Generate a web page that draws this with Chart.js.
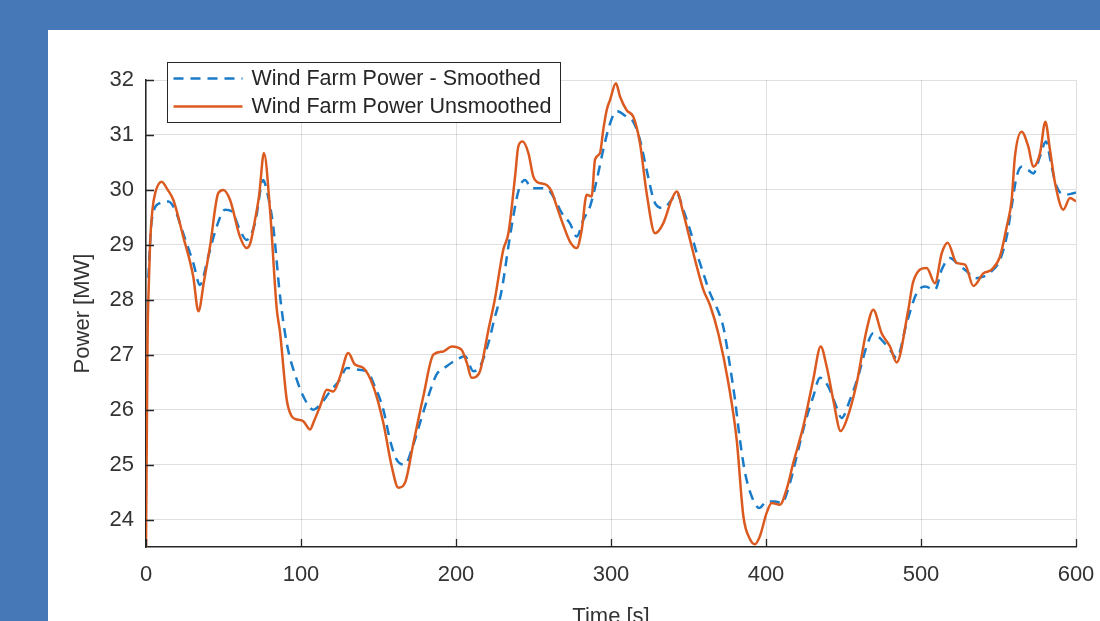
<!DOCTYPE html>
<html>
<head>
<meta charset="utf-8">
<script src="https://cdn.jsdelivr.net/npm/chart.js@4.4.1/dist/chart.umd.min.js"></script>
<style>
  body { margin: 0; background: #4677b7; overflow: hidden; }
  #panel { position: absolute; left: 48px; top: 30px; width: 1052px; height: 611px; background: #fff; }
  canvas { display: block; }
</style>
</head>
<body>
<div id="panel"><canvas id="chart" width="1052" height="611"></canvas></div>
<script>
// tick positions
const xTicks = [0, 100, 200, 300, 400, 500, 600];
const yTicks = [24, 25, 26, 27, 28, 29, 30, 31, 32];

// unsmoothed wind farm power [MW] vs time [s]
const rawTime = [0, 1, 1.5, 2.6, 4, 6, 10.1, 14, 17.6, 24, 30.5, 33.8, 37.5, 41.3, 46.6, 49.9, 54.2, 60.6, 64.9, 67.5,
  70.3, 73, 76.1, 80, 84.3, 86.5, 90.8, 94, 97.5, 101.5, 105.8, 108.5, 112.3, 116.6, 120.9, 125.2, 130.5, 134.8, 140.2, 146.7,
  153.1, 158.5, 162.8, 167.1, 172.5, 178.9, 185.4, 191.8, 197.2, 203.6, 207, 210.1, 213, 215.5, 220.9, 225, 230.5, 233.8, 238.1, 240.2,
  243, 246.7, 249.9, 252, 258.5, 261.7, 265, 269.2, 273.5, 277.9, 281.1, 284.3, 287.5, 289.7, 292.9, 295, 297.2, 299.4, 303.2, 305.8,
  310.1, 314.4, 318.7, 323, 328.4, 333.7, 339.1, 342.4, 346.6, 351, 355.3, 359.6, 363.9, 369.2, 375.7, 381.1, 385.4, 389.7, 392.9, 396.1,
  400.4, 403.7, 409, 413.3, 417.6, 424.1, 430.5, 435.3, 439.1, 443.4, 448.2, 452.1, 458.5, 464.9, 469.2, 474.6, 480, 484.3, 491.8, 495,
  503.7, 509, 513.4, 517.2, 523, 528.4, 533.8, 540.2, 545.6, 551, 555.3, 558.5, 560.6, 564.9, 569.2, 572.4, 576.8, 580.2, 583.2, 586.5,
  591.8, 596.1, 600];
const rawPower = [23.5, 27.3, 28.0, 29.0, 29.6, 29.95, 30.15, 30.0, 29.82, 29.15, 28.42, 27.79, 28.35, 28.97, 29.94, 30.0, 29.82, 29.15, 28.94, 29.05,
  29.45, 29.9, 30.67, 29.64, 27.85, 27.4, 26.18, 25.88, 25.82, 25.79, 25.64, 25.8, 26.06, 26.36, 26.33, 26.6, 27.03, 26.82, 26.76, 26.42,
  25.76, 24.97, 24.58, 24.67, 25.39, 26.24, 27.0, 27.06, 27.15, 27.09, 26.85, 26.58, 26.6, 26.7, 27.45, 28.0, 28.91, 29.21, 30.24, 30.79,
  30.88, 30.67, 30.24, 30.15, 30.09, 29.97, 29.7, 29.36, 29.06, 28.94, 29.27, 29.91, 29.88, 30.55, 30.67, 31.09, 31.45, 31.64, 31.94, 31.7,
  31.45, 31.33, 30.85, 29.94, 29.21, 29.39, 29.82, 29.97, 29.58, 29.09, 28.61, 28.18, 27.9, 27.39, 26.49, 25.45, 24.06, 23.64, 23.55, 23.7,
  24.12, 24.3, 24.27, 24.55, 25.03, 25.7, 26.55, 27.15, 26.79, 26.18, 25.61, 25.82, 26.48, 27.45, 27.82, 27.39, 27.15, 26.86, 27.82, 28.33,
  28.58, 28.3, 28.85, 29.04, 28.67, 28.64, 28.25, 28.48, 28.55, 28.79, 29.33, 29.82, 30.61, 31.06, 30.79, 30.42, 30.67, 31.24, 30.73, 30.12,
  29.64, 29.85, 29.79];

// smoothed wind farm power [MW] vs time [s]
const smoothTime = [1.5, 3.7, 9, 14.4, 18.7, 24, 30.5, 34.8, 40.2, 45.6, 51, 55.3, 60.6, 64.9, 70.3, 75.7, 77.8, 82.1, 86.5, 90.8,
  97.2, 102.6, 108, 113.3, 118.7, 125.2, 129.5, 135.9, 142.4, 147.7, 153.1, 157.4, 161.7, 167.1, 171.4, 176.8, 182.1, 187.5, 194, 200.4,
  205.8, 211.2, 215.5, 220.9, 224.5, 229.5, 234.8, 240.2, 244.5, 248.8, 254.2, 259.6, 263.9, 268.2, 273.5, 277.9, 282.1, 286.5, 290.8, 295,
  299.4, 303.7, 310.1, 314.4, 318.7, 323, 328.4, 333.7, 339.1, 342.4, 346.6, 351, 355.3, 359.6, 363.9, 369.2, 372.5, 376.8, 380, 383.2,
  386.5, 390.8, 395.7, 400.4, 405.8, 410.1, 415.5, 419.8, 425.2, 430.5, 434.8, 440.2, 444.5, 448.8, 454.2, 459.5, 464.9, 469.2, 474.6, 480,
  484.3, 490.8, 497.2, 502.6, 509, 513.4, 518.7, 524.1, 529.5, 534.8, 540.2, 545.6, 551, 555.3, 558.5, 561.7, 564.9, 569.2, 572.4, 576.8,
  580.6, 584.3, 587.5, 592.9, 598.3, 600];
const smoothPower = [28.4, 29.45, 29.76, 29.79, 29.64, 29.21, 28.67, 28.27, 28.79, 29.33, 29.64, 29.61, 29.27, 29.09, 29.39, 30.18, 30.0, 29.33, 28.06, 27.21,
  26.55, 26.18, 26.0, 26.12, 26.33, 26.55, 26.76, 26.73, 26.7, 26.42, 26.0, 25.45, 25.09, 25.0, 25.27, 25.76, 26.24, 26.64, 26.79, 26.91,
  26.97, 26.7, 26.79, 27.21, 27.62, 28.18, 29.15, 29.97, 30.18, 30.03, 30.03, 30.0, 29.82, 29.58, 29.39, 29.15, 29.45, 29.7, 30.18, 30.73,
  31.21, 31.43, 31.33, 31.24, 30.91, 30.36, 29.76, 29.67, 29.82, 29.94, 29.64, 29.27, 28.85, 28.48, 28.12, 27.79, 27.5, 26.79, 26.18, 25.45,
  24.85, 24.42, 24.21, 24.33, 24.33, 24.3, 24.67, 25.15, 25.76, 26.24, 26.58, 26.42, 26.12, 25.85, 26.18, 26.61, 27.15, 27.39, 27.27, 27.09,
  26.94, 27.58, 28.12, 28.24, 28.18, 28.55, 28.76, 28.64, 28.52, 28.39, 28.42, 28.52, 28.73, 29.15, 29.7, 30.24, 30.42, 30.36, 30.3, 30.61,
  30.88, 30.42, 30.06, 29.91, 29.94, 29.95];

const BLUE = '#1a7cc9';
const ORANGE = '#db5a20';
const AXIS = '#262626';
const FONT = '"Liberation Sans", Arial, Helvetica, sans-serif';

const toPoints = (ts, vs) => ts.map((t, i) => ({ x: t, y: vs[i] }));

// inward tick marks + legend box inside the axes, matlab style
const matlabDecor = {
  id: 'matlabDecor',
  afterDatasetsDraw(chart) {
    const { ctx, chartArea: a, scales: { x, y } } = chart;
    ctx.save();
    ctx.strokeStyle = AXIS;
    ctx.lineWidth = 1.3;
    ctx.beginPath();
    x.ticks.forEach(t => {
      const px = Math.round(x.getPixelForValue(t.value)) + 0.5;
      ctx.moveTo(px, a.bottom);
      ctx.lineTo(px, a.bottom - 8);
    });
    y.ticks.forEach(t => {
      const py = Math.round(y.getPixelForValue(t.value)) + 0.5;
      ctx.moveTo(a.left, py);
      ctx.lineTo(a.left + 8, py);
    });
    ctx.stroke();
    ctx.restore();
  },
  afterDraw(chart) {
    const { ctx } = chart;
    const entries = [chart.data.datasets[1], chart.data.datasets[0]];
    const box = { left: 119.5, top: 32.5, width: 393, height: 60 };
    ctx.save();
    ctx.fillStyle = '#fff';
    ctx.fillRect(box.left, box.top, box.width, box.height);
    ctx.strokeStyle = AXIS;
    ctx.lineWidth = 1;
    ctx.strokeRect(box.left, box.top, box.width, box.height);
    ctx.font = '21.5px ' + FONT;
    ctx.textBaseline = 'middle';
    entries.forEach((ds, i) => {
      const cy = box.top + 16 + i * 28;
      ctx.strokeStyle = ds.borderColor;
      ctx.lineWidth = ds.borderWidth;
      ctx.setLineDash(ds.borderDash || []);
      ctx.beginPath();
      ctx.moveTo(box.left + 6, cy);
      ctx.lineTo(box.left + 75, cy);
      ctx.stroke();
      ctx.setLineDash([]);
      ctx.fillStyle = AXIS;
      ctx.fillText(ds.label, box.left + 84, cy + 1);
    });
    ctx.restore();
  }
};

new Chart(document.getElementById('chart'), {
  type: 'line',
  data: {
    datasets: [
      {
        label: 'Wind Farm Power Unsmoothed',
        data: toPoints(rawTime, rawPower),
        borderColor: ORANGE,
        borderWidth: 2.5,
        pointRadius: 0,
        cubicInterpolationMode: 'monotone',
        order: 0
      },
      {
        label: 'Wind Farm Power - Smoothed',
        data: toPoints(smoothTime, smoothPower),
        borderColor: BLUE,
        borderWidth: 2.5,
        borderDash: [10, 7],
        pointRadius: 0,
        cubicInterpolationMode: 'monotone',
        order: 1
      }
    ]
  },
  options: {
    responsive: false,
    animation: false,
    devicePixelRatio: 1,
    layout: { padding: { left: 0, top: 50, right: 24, bottom: 0 } },
    plugins: { legend: { display: false }, tooltip: { enabled: false } },
    scales: {
      x: {
        type: 'linear',
        min: 0,
        max: 600,
        afterBuildTicks: s => { s.ticks = xTicks.map(v => ({ value: v })); },
        afterFit: s => { s.height = 94; s.paddingLeft = 0; s.paddingRight = 0; },
        grid: { color: 'rgba(38,38,38,0.15)', drawTicks: false },
        border: { color: AXIS, width: 1.5 },
        ticks: { color: '#333', font: { family: FONT, size: 22 }, padding: 15, maxRotation: 0 },
        title: { display: true, text: 'Time [s]', color: '#333', font: { family: FONT, size: 22 }, padding: { top: 0, bottom: 11 } }
      },
      y: {
        min: 23.5,
        max: 32,
        afterBuildTicks: s => { s.ticks = yTicks.map(v => ({ value: v })); },
        afterFit: s => { s.width = 98; s.paddingTop = 0; s.paddingBottom = 0; },
        grid: { color: 'rgba(38,38,38,0.15)', drawTicks: false },
        border: { color: AXIS, width: 1.5 },
        ticks: { color: '#333', font: { family: FONT, size: 22 }, padding: 12 },
        title: { display: true, text: 'Power [MW]', color: '#333', font: { family: FONT, size: 22 }, padding: { top: 22, bottom: 0 } }
      }
    }
  },
  plugins: [matlabDecor]
});
</script>
</body>
</html>
